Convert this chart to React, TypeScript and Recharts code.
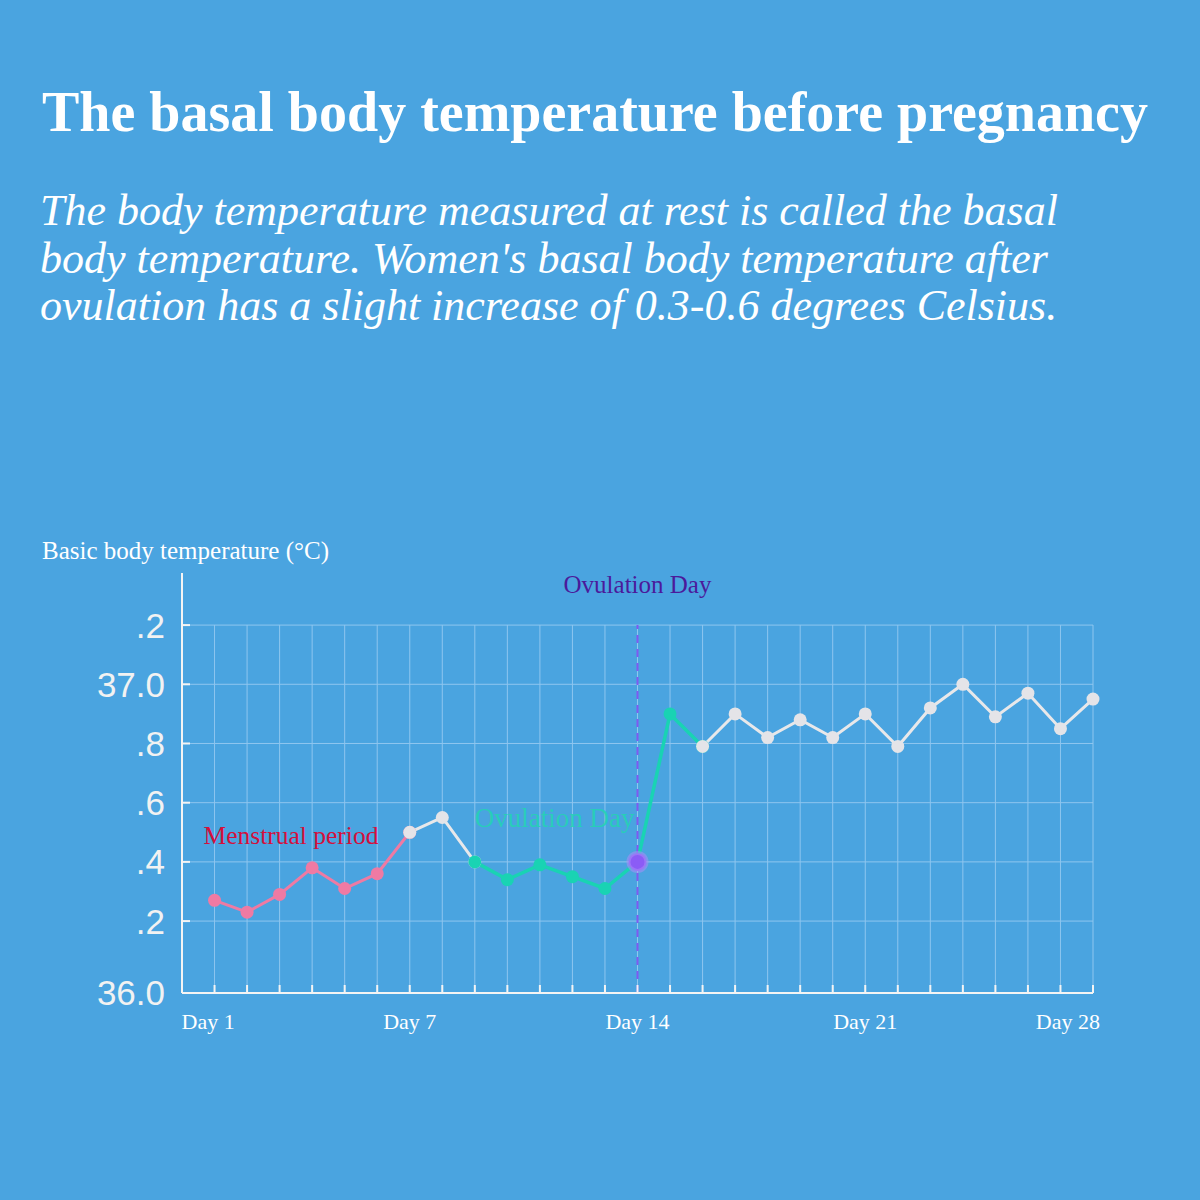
import { LineChart, Line, XAxis, YAxis, CartesianGrid, ReferenceLine, ReferenceDot } from 'recharts'

const BG = '#4aa4e0'
const SERIF = '"Liberation Serif", "Times New Roman", serif'
const SANS = '"Liberation Sans", Arial, sans-serif'

// cycle days and basal temperature
const days = [1, 2, 3, 4, 5, 6, 7, 8, 9, 10, 11, 12, 13, 14, 15, 16, 17, 18, 19, 20, 21, 22, 23, 24, 25, 26, 27, 28]
const temps = [
  36.27, 36.23, 36.29, 36.38, 36.31, 36.36, 36.5, 36.55, 36.4, 36.34, 36.39, 36.35, 36.31, 36.4,
  36.9, 36.79, 36.9, 36.82, 36.88, 36.82, 36.9, 36.79, 36.92, 37.0, 36.89, 36.97, 36.85, 36.95,
]

// colour phases: [first day, last day]
const menstrual = [1, 7]
const follicular = [7, 9]
const ovulation = [9, 16]
const luteal = [16, 28]
const ovulationDay = 14

const xLabelDays = [1, 7, 14, 21, 28]
const xLabels = ['Day 1', 'Day 7', 'Day 14', 'Day 21', 'Day 28']
const yBottom = 35.957
const yTicks = [yBottom, 36.2, 36.4, 36.6, 36.8, 37.0, 37.2]
const yLabels = ['36.0', '.2', '.4', '.6', '.8', '37.0', '.2']

const inRange = (d: number, r: number[]) => d >= r[0] && d <= r[1]

const data = days.map((day, i) => ({
  day,
  pink: inRange(day, menstrual) ? temps[i] : null,
  whiteA: inRange(day, follicular) ? temps[i] : null,
  teal: inRange(day, ovulation) ? temps[i] : null,
  whiteB: inRange(day, luteal) ? temps[i] : null,
}))

function DayTick(props: any) {
  const { x, payload } = props
  const i = xLabelDays.indexOf(payload.value)
  if (i < 0) return <g />
  let anchor: 'start' | 'middle' | 'end' = 'middle'
  let tx = x
  if (i === 0) {
    anchor = 'start'
    tx = x - 33
  } else if (i === xLabelDays.length - 1) {
    anchor = 'end'
    tx = x + 7
  }
  return (
    <text x={tx} y={1029} textAnchor={anchor} fill="#ffffff" fontFamily={SERIF} fontSize={22}>
      {xLabels[i]}
    </text>
  )
}

export default function App() {
  return (
    <div style={{ position: 'absolute', left: 0, top: 0, width: 1200, height: 1200, background: BG }}>
      <svg width={1200} height={600} style={{ position: 'absolute', left: 0, top: 0 }}>
        <text x={42} y={131} fill="#ffffff" fontFamily={SERIF} fontWeight="bold" fontSize={56}>
          The basal body temperature before pregnancy
        </text>
        <g fill="#ffffff" fontFamily={SERIF} fontStyle="italic" fontSize={44}>
          <text x={40} y={225}>The body temperature measured at rest is called the basal</text>
          <text x={40} y={273}>body temperature. Women's basal body temperature after</text>
          <text x={40} y={320}>ovulation has a slight increase of 0.3-0.6 degrees Celsius.</text>
        </g>
        <text x={42} y={559} fill="#ffffff" fontFamily={SERIF} fontSize={25}>
          Basic body temperature (°C)
        </text>
      </svg>
      <div style={{ position: 'absolute', left: 0, top: 0 }}>
        <LineChart width={1200} height={1200} data={data} margin={{ top: 573, right: 107, bottom: 147, left: 0 }}>
          <CartesianGrid stroke="#8ec6ef" strokeWidth={1} y={625} height={368} syncWithTicks />
          <XAxis
            dataKey="day"
            type="number"
            domain={[0, 28]}
            ticks={days}
            interval={0}
            height={60}
            axisLine={{ stroke: '#f4f4f4', strokeWidth: 2 }}
            tickLine={{ stroke: '#f4f4f4', strokeWidth: 2 }}
            tickSize={-8}
            tick={<DayTick />}
          />
          <YAxis
            type="number"
            domain={[yBottom, 37.376]}
            ticks={yTicks}
            interval={0}
            width={182}
            axisLine={{ stroke: '#f4f4f4', strokeWidth: 2 }}
            tickLine={{ stroke: '#f4f4f4', strokeWidth: 2 }}
            tickSize={-8}
            tickMargin={25}
            tick={{ fill: '#f2f2f2', fontSize: 35, fontFamily: SANS }}
            tickFormatter={(v: number) => yLabels[yTicks.indexOf(v)] ?? ''}
          />
          <ReferenceLine
            segment={[
              { x: ovulationDay, y: yBottom },
              { x: ovulationDay, y: 37.2 },
            ]}
            stroke="#7f5af0"
            strokeWidth={2}
            strokeDasharray="8 6"
          />
          <Line
            dataKey="pink"
            stroke="#ef7aa3"
            strokeWidth={3}
            dot={{ r: 6.5, fill: '#ef7aa3', stroke: 'none' }}
            isAnimationActive={false}
          />
          <Line
            dataKey="whiteA"
            stroke="#e8e8ea"
            strokeWidth={3}
            dot={{ r: 6.5, fill: '#e4e4e8', stroke: 'none' }}
            isAnimationActive={false}
          />
          <Line
            dataKey="teal"
            stroke="#19d3b3"
            strokeWidth={3.5}
            dot={{ r: 6.5, fill: '#19d3b3', stroke: 'none' }}
            isAnimationActive={false}
          />
          <Line
            dataKey="whiteB"
            stroke="#e8e8ea"
            strokeWidth={3}
            dot={{ r: 6.5, fill: '#e4e4e8', stroke: 'none' }}
            isAnimationActive={false}
          />
          <ReferenceDot
            x={ovulationDay}
            y={temps[ovulationDay - 1]}
            r={9}
            fill="#8b5cf6"
            stroke="#a98cf8"
            strokeWidth={4}
            strokeOpacity={0.55}
          />
          <ReferenceDot
            x={ovulationDay}
            y={37.2}
            r={0}
            fill="none"
            stroke="none"
            label={{ value: 'Ovulation Day', position: 'top', offset: 32, fill: '#4b1a9b', fontSize: 25, fontFamily: SERIF }}
          />
          <ReferenceDot
            x={0.66}
            y={36.49}
            r={0}
            fill="none"
            stroke="none"
            label={{ value: 'Menstrual period', position: 'right', offset: 0, fill: '#d40f3c', fontSize: 25.5, fontFamily: SERIF }}
          />
          <ReferenceDot
            x={9.0}
            y={36.55}
            r={0}
            fill="none"
            stroke="none"
            label={{ value: 'Ovulation Day', position: 'right', offset: 0, fill: '#22d4b2', fillOpacity: 0.85, fontSize: 27, fontFamily: SERIF }}
          />
        </LineChart>
      </div>
    </div>
  )
}
